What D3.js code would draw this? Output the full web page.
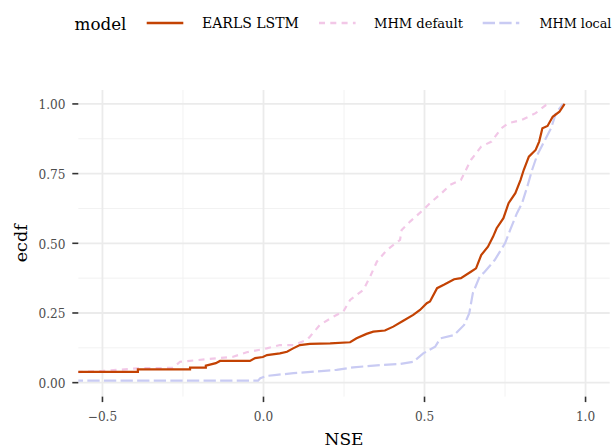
<!DOCTYPE html>
<html><head><meta charset="utf-8">
<script src="https://cdn.jsdelivr.net/npm/d3@7"></script>
<style>body{margin:0;background:#fff}svg{display:block}</style>
</head><body>
<div id="chart"></div>
<script>
const models = ["EARLS LSTM", "MHM default", "MHM local"];
const colors = ["#C34203", "#F2C7E7", "#C9CBF3"];
const dashes = [null, "6,5.3", "12.3,4.3"];

const xTicks = [-0.5, 0.0, 0.5, 1.0];
const xTickLabels = ["\u22120.5", "0.0", "0.5", "1.0"];
const yTicks = [0, 0.25, 0.5, 0.75, 1.0];
const yTickLabels = ["0.00", "0.25", "0.50", "0.75", "1.00"];

// EARLS LSTM (NSE, ecdf)
const lstmX = [-0.65,-0.390,-0.390,-0.228,-0.228,-0.179,-0.179,-0.148,-0.135,-0.104,-0.042,-0.026,-0.002,0.011,0.051,0.073,0.092,0.113,0.144,0.207,0.269,0.289,0.320,0.341,0.377,0.403,0.434,0.465,0.486,0.507,0.517,0.539,0.560,0.592,0.613,0.644,0.660,0.676,0.697,0.713,0.724,0.745,0.761,0.782,0.798,0.808,0.824,0.845,0.856,0.866,0.882,0.898,0.919,0.935];
const lstmY = [0.039,0.039,0.048,0.048,0.054,0.054,0.061,0.070,0.078,0.078,0.078,0.088,0.092,0.099,0.105,0.111,0.123,0.135,0.139,0.141,0.145,0.159,0.175,0.183,0.187,0.201,0.222,0.243,0.261,0.285,0.291,0.339,0.351,0.371,0.375,0.398,0.410,0.458,0.488,0.524,0.554,0.590,0.644,0.680,0.727,0.763,0.811,0.835,0.865,0.913,0.921,0.954,0.972,1.0];

// MHM default
const defX = [-0.65,-0.498,-0.384,-0.281,-0.259,-0.176,-0.094,-0.052,0.010,0.051,0.093,0.134,0.144,0.175,0.217,0.248,0.269,0.310,0.331,0.352,0.383,0.424,0.429,0.455,0.496,0.517,0.553,0.579,0.613,0.644,0.676,0.708,0.739,0.761,0.803,0.845,0.877,0.887];
const defY = [0.034,0.042,0.052,0.053,0.075,0.084,0.093,0.109,0.123,0.135,0.135,0.153,0.165,0.207,0.237,0.255,0.297,0.333,0.380,0.434,0.476,0.512,0.548,0.578,0.620,0.644,0.680,0.709,0.727,0.799,0.847,0.865,0.913,0.931,0.943,0.967,0.996,1.0];

// MHM local
const locX = [-0.65,-0.017,-0.010,0.010,0.041,0.093,0.227,0.279,0.372,0.424,0.465,0.496,0.533,0.549,0.592,0.623,0.639,0.650,0.671,0.687,0.718,0.750,0.766,0.787,0.803,0.819,0.834,0.850,0.866,0.893,0.908,0.930];
const locY = [0.007,0.007,0.016,0.024,0.028,0.034,0.046,0.055,0.064,0.067,0.075,0.105,0.129,0.159,0.171,0.207,0.249,0.321,0.380,0.398,0.440,0.500,0.548,0.608,0.644,0.703,0.763,0.817,0.853,0.913,0.967,1.0];

const seriesX = [lstmX, defX, locX];
const seriesY = [lstmY, defY, locY];

const W = 614, H = 447;
const svg = d3.select("#chart").append("svg").attr("width", W).attr("height", H)
  .style("font-family", "\"DejaVu Serif\", serif");

const pLeft = 78.3, pRight = 609.7, pTop = 90, pBottom = 396.6;
const x = d3.scaleLinear().domain([-0.575, 1.075]).range([pLeft, pRight]);
const y = d3.scaleLinear().domain([-0.05, 1.05]).range([pBottom, pTop]);

// fit a text element's font size so its width equals the reference width
function fit(sel, width, size) {
  sel.attr("font-size", size);
  const w = sel.node().getComputedTextLength();
  if (w > 0) sel.attr("font-size", size * width / w);
  return sel;
}

// grid
const g = svg.append("g");
const xMinor = [-0.25, 0.25, 0.75];
const yMinor = [0.125, 0.375, 0.625, 0.875];
g.selectAll(".xmin").data(xMinor).join("line")
  .attr("x1", d => x(d)).attr("x2", d => x(d)).attr("y1", pTop).attr("y2", pBottom)
  .attr("stroke", "#F2F2F2").attr("stroke-width", 1);
g.selectAll(".ymin").data(yMinor).join("line")
  .attr("y1", d => y(d)).attr("y2", d => y(d)).attr("x1", pLeft).attr("x2", pRight)
  .attr("stroke", "#F2F2F2").attr("stroke-width", 1);
g.selectAll(".xmaj").data(xTicks).join("line")
  .attr("x1", d => x(d)).attr("x2", d => x(d)).attr("y1", pTop).attr("y2", pBottom)
  .attr("stroke", "#EBEBEB").attr("stroke-width", 1.8);
g.selectAll(".ymaj").data(yTicks).join("line")
  .attr("y1", d => y(d)).attr("y2", d => y(d)).attr("x1", pLeft).attr("x2", pRight)
  .attr("stroke", "#EBEBEB").attr("stroke-width", 1.8);

svg.append("clipPath").attr("id", "clip").append("rect")
  .attr("x", pLeft).attr("y", pTop).attr("width", pRight - pLeft).attr("height", pBottom - pTop);

const line = d3.line().x(d => x(d[0])).y(d => y(d[1]));
[2, 1, 0].forEach(i => {
  const pts = seriesX[i].map((v, k) => [v, seriesY[i][k]]);
  svg.append("path").attr("clip-path", "url(#clip)")
    .attr("d", line(pts)).attr("fill", "none")
    .attr("stroke", colors[i]).attr("stroke-width", 2.2)
    .attr("stroke-dasharray", dashes[i]);
});

// axes
const ax = svg.append("g");
ax.selectAll(".xt").data(xTicks).join("line")
  .attr("x1", d => x(d)).attr("x2", d => x(d)).attr("y1", pBottom).attr("y2", pBottom + 5.5)
  .attr("stroke", "#333").attr("stroke-width", 1.6);
ax.selectAll(".yt").data(yTicks).join("line")
  .attr("y1", d => y(d)).attr("y2", d => y(d)).attr("x1", pLeft - 6).attr("x2", pLeft)
  .attr("stroke", "#333").attr("stroke-width", 1.6);

const tickSize = (() => {
  const t = svg.append("text").attr("font-size", 15.5).text("1.00");
  const w = t.node().getComputedTextLength(); t.remove();
  return w > 0 ? 15.5 * 27 / w : 15.5;
})();
ax.selectAll(".xl").data(xTicks).join("text")
  .attr("x", d => x(d)).attr("y", 420.5).attr("text-anchor", "middle")
  .attr("font-size", tickSize).attr("fill", "#4D4D4D").text((d, i) => xTickLabels[i]);
ax.selectAll(".yl").data(yTicks).join("text")
  .attr("x", 65.5).attr("y", d => y(d) + 5.3).attr("text-anchor", "end")
  .attr("font-size", tickSize).attr("fill", "#4D4D4D").text((d, i) => yTickLabels[i]);

fit(svg.append("text").attr("x", x(0.25)).attr("y", 444.5).attr("text-anchor", "middle")
  .attr("fill", "#000").text("NSE"), 39, 20.5);
fit(svg.append("text").attr("transform", `translate(26.5,${y(0.5)}) rotate(-90)`)
  .attr("text-anchor", "middle").attr("fill", "#000").text("ecdf"), 38, 20.5);

// legend
const ly = 23;
fit(svg.append("text").attr("x", 74.5).attr("y", ly + 6.5).attr("fill", "#000").text("model"), 52, 20.5);
const keyX = [146.7, 319, 482.7];
const labX = [202, 374, 539.5];
const labW = [97, 89, 72];
models.forEach((m, i) => {
  svg.append("line").attr("x1", keyX[i]).attr("x2", keyX[i] + 36.6).attr("y1", ly).attr("y2", ly)
    .attr("stroke", colors[i]).attr("stroke-width", 2.6).attr("stroke-dasharray", dashes[i]);
  fit(svg.append("text").attr("x", labX[i]).attr("y", ly + 5.3).attr("fill", "#000").text(m), labW[i], 15.5);
});
</script>
</body></html>
